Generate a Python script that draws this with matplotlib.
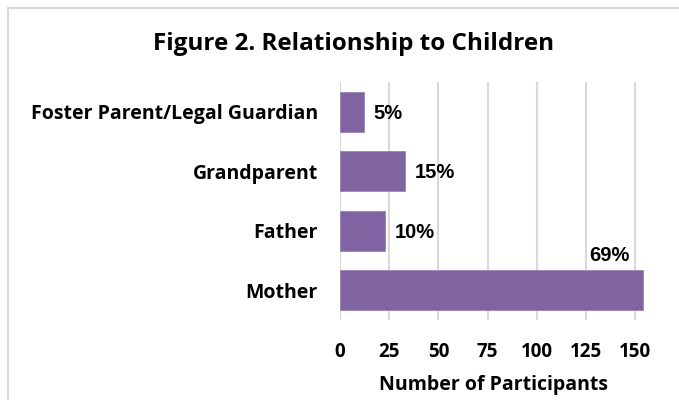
import matplotlib.pyplot as plt
from matplotlib.patches import Rectangle

# relationship counts, listed bottom to top
categories = ["Mother", "Father", "Grandparent", "Foster Parent/Legal Guardian"]
counts = [154, 23, 33, 12]
pct_labels = ["69%", "10%", "15%", "5%"]
x_ticks = [0, 25, 50, 75, 100, 125, 150]

BAR = "#8064A2"
GRID = "#D9D9D9"
LABEL_FONT = "Open Sans"
VALUE_FONT = "Liberation Sans"

fig = plt.figure(figsize=(6.79, 4.0), dpi=100)
W, H = 679, 400

# light chart frame (runs off the right and bottom)
fig.patches.append(Rectangle((7.5 / W, -0.1), 1.2, (H - 8.5) / H + 0.1,
                             transform=fig.transFigure, fill=False,
                             edgecolor=GRID, linewidth=1.5))

ax = fig.add_axes([340 / W, 80 / H, 307 / W, 238 / H])
ypos = list(range(len(categories)))
ax.barh(ypos, counts, height=0.67, color=BAR, edgecolor="#9A85B8", linewidth=0.6, zorder=3)

ax.set_xlim(0, 156)
ax.set_ylim(-0.5, len(categories) - 0.5)
ax.set_xticks(x_ticks)
ax.set_yticks(ypos)
ax.set_yticklabels(categories, fontsize=14, fontweight="bold", family=LABEL_FONT)
ax.set_xticklabels([str(t) for t in x_ticks], fontsize=13.5, fontweight="bold", family=LABEL_FONT)
ax.tick_params(axis="y", length=0, pad=16)
ax.tick_params(axis="x", length=0, pad=16)
ax.grid(axis="x", color=GRID, linewidth=1.5, zorder=0)
for s in ax.spines.values():
    s.set_visible(False)

ax.set_xlabel("Number of Participants", fontsize=14, fontweight="bold",
              family=LABEL_FONT, labelpad=9)

# value labels: beside the bar, except the long one sits above its end
for y, v, lab in zip(ypos, counts, pct_labels):
    if v > 100:
        ax.annotate(lab, (v, y + 0.33), xytext=(-10, 4), textcoords="offset points",
                    ha="right", va="bottom", fontsize=14.5, fontweight="bold",
                    family=VALUE_FONT)
    else:
        ax.annotate(lab, (v, y), xytext=(7, -1), textcoords="offset points",
                    ha="left", va="center", fontsize=14.5, fontweight="bold",
                    family=VALUE_FONT)

fig.text(354 / W, 1 - 44 / H, "Figure 2. Relationship to Children", ha="center",
         va="center", fontsize=17.5, fontweight="bold", family=LABEL_FONT)

fig.savefig("out.png", dpi=100)
